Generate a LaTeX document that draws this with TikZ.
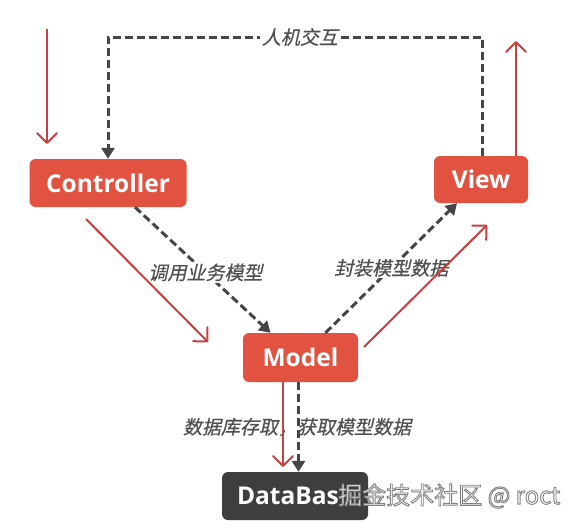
\documentclass[tikz,border=0pt]{standalone}
\usepackage{fontspec}
\usetikzlibrary{arrows.meta,calc}
\newfontfamily\boxfont{Open Sans}
\newfontfamily\cjklab{Noto Sans CJK SC}[FakeSlant=0.22,FakeBold=0.5]
\newfontfamily\cjkwm{Noto Sans CJK SC}
\definecolor{boxred}{HTML}{E15241}
\definecolor{dbgray}{HTML}{3E3E3E}
\definecolor{dashgray}{HTML}{454545}
\definecolor{arrred}{HTML}{C8403F}
\definecolor{labgray}{HTML}{505050}
\newcommand\wmon{\special{pdf:literal direct 2 Tr 0.9 w 0.5 G}}
\newcommand\wmoff{\special{pdf:literal direct 0 Tr}}
\begin{document}
\begin{tikzpicture}[x=1pt,y=-1pt,
  redbox/.style={fill=boxred, rounded corners=6pt, text=white, inner sep=0pt,
    font=\boxfont\bfseries\fontsize{24.5}{24.5}\selectfont},
  darkbox/.style={fill=dbgray, rounded corners=6pt, inner sep=0pt},
  dasharrow/.style={draw=dashgray, line width=3pt, dash pattern=on 8pt off 4pt,
    -{Triangle[length=11pt,width=13pt]}},
  redarrow/.style={draw=arrred, line width=2pt, line join=round,
    -{Straight Barb[length=10pt,width=20pt,round]}},
  lab/.style={text=labgray, inner sep=1.5pt, font=\cjklab\fontsize{19}{19}\selectfont},
  wm/.style={text=white, inner sep=0pt, font=\cjkwm\fontsize{24}{24}\selectfont}
]
\fill[white] (0,0) rectangle (577,530);
\useasboundingbox (0,0) rectangle (577,530);

% boxes
\node[redbox, minimum width=157pt, minimum height=48pt] (ctrl) at (108,183) {Controller};
\node[redbox, minimum width=94pt, minimum height=47pt] (view) at (481,179.5) {View};
\node[redbox, minimum width=115pt, minimum height=49pt] (model) at (300.5,357.5) {Model};
\node[darkbox, minimum width=146pt, minimum height=48pt] (db) at (295,496) {};
\node[anchor=west, inner sep=0pt, text=white,
  font=\boxfont\bfseries\fontsize{24.5}{24.5}\selectfont] (dbt) at ([xshift=15pt]db.west) {DataBas};

% dashed connectors
\coordinate (tr) at (482,37);
\coordinate (tl) at (108,37);
\draw[dasharrow] ([xshift=1pt]view.north) -- (tr)
  -- node[lab, fill=white, pos=0.487] {人机交互} (tl) -- (ctrl.north);
\draw[dasharrow] ([xshift=27pt]ctrl.south) --
  node[lab, fill=white, pos=0.52] {调用业务模型} ([xshift=-30pt]model.north);
\draw[dasharrow] ([xshift=25pt]model.north) --
  node[lab, fill=white, midway] {封装模型数据} ([xshift=-24pt]view.south);
\draw[dasharrow] ([xshift=-2pt]model.south) -- ([xshift=-2pt]model.south |- db.north);
\node[lab] (dblab) at (297,427) {数据库存取，获取模型数据};

% red flow arrows
\coordinate (inTop) at (47,29);
\coordinate (inBot) at (47,144);
\draw[redarrow] (inTop) -- (inBot);
\coordinate (outTop) at (516,41);
\draw[redarrow] ([xshift=35pt]view.north) -- (outTop);
\coordinate (cA) at (86,219);
\coordinate (cB) at (208,342);
\draw[redarrow] (cA) -- (cB);
\coordinate (mA) at (364,347);
\coordinate (mB) at (487,225);
\draw[redarrow] (mA) -- (mB);
\coordinate (dbR) at (283,467);
\draw[redarrow] (model.south -| dbR) -- (dbR);

% watermark
\node[wm, anchor=west] (wmk) at (338,496) {\wmon 掘金技术社区 @ roct\wmoff};
\end{tikzpicture}
\end{document}
